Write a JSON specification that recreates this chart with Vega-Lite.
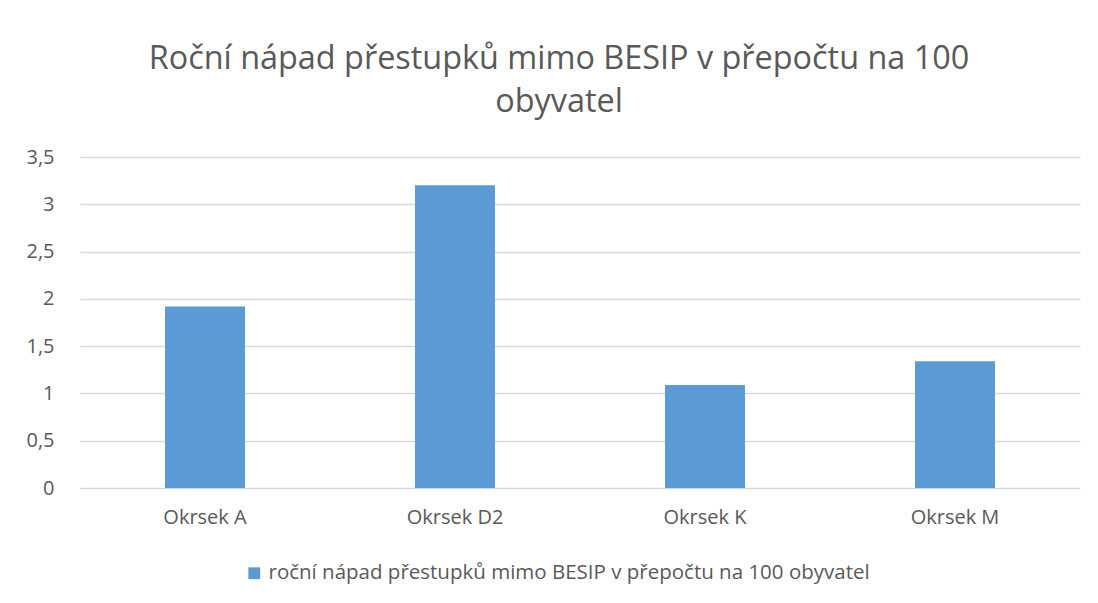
{
  "$schema": "https://vega.github.io/schema/vega-lite/v6.json",
  "width": 1000,
  "height": 331,
  "autosize": {"type": "none"},
  "padding": {"left": 80, "top": 157, "right": 18, "bottom": 115},
  "background": "white",
  "title": {
    "text": ["Roční nápad přestupků mimo BESIP v přepočtu na 100", "obyvatel"],
    "anchor": "middle",
    "frame": "group",
    "dx": -21,
    "offset": 29,
    "font": "Open Sans",
    "fontSize": 32.4,
    "fontWeight": "normal",
    "lineHeight": 43,
    "color": "#595959"
  },
  "data": {
    "values": [
      {"okrsek": "Okrsek A", "hodnota": 1.92},
      {"okrsek": "Okrsek D2", "hodnota": 3.2},
      {"okrsek": "Okrsek K", "hodnota": 1.09},
      {"okrsek": "Okrsek M", "hodnota": 1.34}
    ]
  },
  "mark": {"type": "bar"},
  "encoding": {
    "x": {
      "field": "okrsek",
      "type": "nominal",
      "sort": null,
      "scale": {"paddingInner": 0.68, "paddingOuter": 0.34},
      "axis": {
        "title": null,
        "labelAngle": 0,
        "ticks": false,
        "domain": false,
        "labelPadding": 19,
        "labelFont": "Open Sans",
        "labelFontSize": 20,
        "labelColor": "#595959"
      }
    },
    "y": {
      "field": "hodnota",
      "type": "quantitative",
      "scale": {"domain": [0, 3.5]},
      "axis": {
        "title": null,
        "values": [0, 0.5, 1, 1.5, 2, 2.5, 3, 3.5],
        "labelExpr": "replace(toString(datum.value), '.', ',')",
        "ticks": false,
        "domain": false,
        "labelPadding": 26,
        "labelFont": "Open Sans",
        "labelFontSize": 20,
        "labelColor": "#595959",
        "gridColor": "#D9D9D9",
        "gridWidth": 1.3
      }
    },
    "color": {
      "datum": "roční nápad přestupků mimo BESIP v přepočtu na 100 obyvatel",
      "type": "nominal",
      "scale": {"range": ["#5B9BD5"]},
      "legend": {
        "title": null,
        "orient": "none",
        "legendX": 164,
        "legendY": 406,
        "direction": "horizontal",
        "symbolType": "square",
        "symbolSize": 140,
        "symbolStrokeWidth": 0,
        "labelFont": "Open Sans",
        "labelFontSize": 20.5,
        "labelColor": "#595959",
        "labelLimit": 900,
        "labelOffset": 4
      }
    }
  },
  "config": {
    "view": {"stroke": null}
  }
}
